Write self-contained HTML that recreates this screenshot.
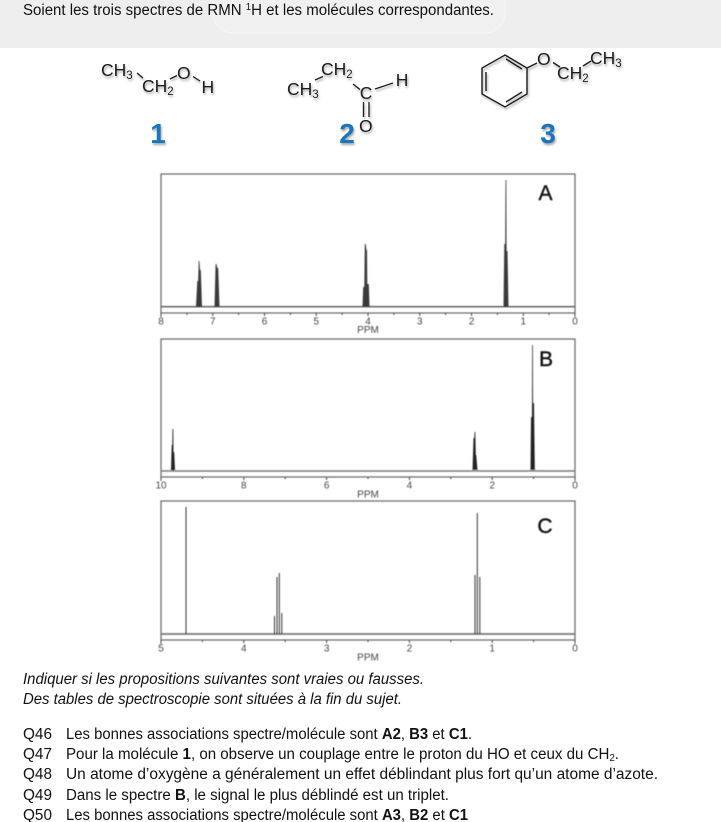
<!DOCTYPE html>
<html lang="fr">
<head>
<meta charset="utf-8">
<title>Spectres RMN</title>
<style>
html,body{margin:0;padding:0;background:#fff;width:721px;height:822px;overflow:hidden}
svg{display:block}
.t{font-family:"Liberation Sans",sans-serif;font-size:15.5px;fill:#111}
.i{font-style:italic}
.m{font-family:"Liberation Sans",sans-serif;font-size:17.5px;fill:#1c1c1c}
.s{font-size:11.5px}
.n{font-family:"Liberation Sans",sans-serif;font-size:28px;font-weight:bold;fill:#1a75bc;text-anchor:middle}
.l{font-family:"Liberation Sans",sans-serif;font-size:10px;fill:#444;text-anchor:middle}
.c{font-family:"Liberation Sans",sans-serif;font-size:21px;fill:#111;stroke:#111;stroke-width:.4;text-anchor:middle}
.mol{filter:drop-shadow(1px 2px 1px rgba(0,0,0,.35))}
.sp{filter:blur(.4px)}
</style>
</head>
<body>
<svg width="721" height="822" viewBox="0 0 721 822" xmlns="http://www.w3.org/2000/svg">
<rect x="0" y="0" width="721" height="48" fill="#eeeeee"/>
<rect x="213" y="-20" width="292" height="53" rx="20" fill="#f0f0f0" stroke="#f6f6f6"/>
<text class="t" x="23" y="15" textLength="471" lengthAdjust="spacingAndGlyphs">Soient les trois spectres de RMN <tspan font-size="10" dy="-5">1</tspan><tspan dy="5">H et les molécules correspondantes.</tspan></text>

<g class="mol">
<text class="m" x="101" y="76">CH<tspan class="s" dy="3">3</tspan></text>
<text class="m" x="142" y="92">CH<tspan class="s" dy="3">2</tspan></text>
<text class="m" x="177" y="79">O</text>
<text class="m" x="201.500" y="93">H</text>
<path d="M137 73L143 78M170 79L177 75.500M193 76.500L200 81" stroke="#1c1c1c" stroke-width="1.300" fill="none"/>

<text class="m" x="287" y="95">CH<tspan class="s" dy="3">3</tspan></text>
<text class="m" x="321" y="75">CH<tspan class="s" dy="3">2</tspan></text>
<text class="m" x="359.700" y="99">C</text>
<text class="m" x="395.700" y="86">H</text>
<text class="m" x="359" y="132">O</text>
<path d="M315 80L323 76.500M353 84L360 89.500M375 89L393 83M363.500 102V117M369 102V117" stroke="#1c1c1c" stroke-width="1.300" fill="none"/>

<path d="M505 55L527 68V94L505 107L482 94V68ZM486 72V91M506 59L522 69M506 102L522 92M527 68L537 63M553 62.500L560 67M583 66L591 61" stroke="#1c1c1c" stroke-width="1.400" fill="none"/>
<text class="m" x="537" y="65">O</text>
<text class="m" x="557" y="79">CH<tspan class="s" dy="3">2</tspan></text>
<text class="m" x="590" y="64">CH<tspan class="s" dy="3">3</tspan></text>
<text class="n" x="158" y="143">1</text>
<text class="n" x="347" y="143">2</text>
<text class="n" x="548" y="143">3</text>
</g>

<g class="sp">
<!-- Spectrum A -->
<rect x="161" y="174" width="414" height="139" fill="#fff" stroke="#666" stroke-width="1.200"/>
<path d="M161 306.700H575" stroke="#555" stroke-width="1.300"/>
<path d="M161 313v4M186.900 313v2M212.750 313v3M238.600 313v2M264.500 313v3M290.400 313v2M316.250 313v3M342.100 313v2M368 313v3M393.900 313v2M419.750 313v3M445.600 313v2M471.500 313v3M497.400 313v2M523.250 313v3M549.100 313v2M575 313v4" stroke="#444" stroke-width="1"/>
<path d="M196 306.500L197.300 281H198.200L198.700 261H199.500L200 270H200.800L202 306.500ZM214.500 306.500L215.600 264H216.500L217.300 268H218.200L219.500 306.500ZM362.500 306.500L363.200 287H364.300L364.800 244H365.800L366.500 250H367L367.300 284H368.800L369.500 306.500ZM503.500 306.500L504.300 244H505.200L505.500 180H506.300L506.600 251H507.500L508.500 306.500Z" fill="#3a3a3a"/>
<text class="l" x="161" y="324.500">8</text><text class="l" x="212.750" y="324.500">7</text><text class="l" x="264.500" y="324.500">6</text><text class="l" x="316.250" y="324.500">5</text><text class="l" x="368" y="324.500">4</text><text class="l" x="419.750" y="324.500">3</text><text class="l" x="471.500" y="324.500">2</text><text class="l" x="523.250" y="324.500">1</text><text class="l" x="575" y="324.500">0</text>
<text class="l" x="368" y="333">PPM</text>

<!-- Spectrum B -->
<rect x="161" y="339" width="414" height="138" fill="#fff" stroke="#666" stroke-width="1.200"/>
<path d="M161 471H575" stroke="#777" stroke-width="1.500"/>
<path d="M161 477v4M202.400 477v2M243.800 477v3M285.200 477v2M326.600 477v3M368 477v2M409.400 477v3M450.800 477v2M492.200 477v3M533.600 477v2M575 477v4" stroke="#444" stroke-width="1"/>
<path d="M171 470.500L171.700 445H172.300L172.500 429H173.300L173.500 452H174.200L175 470.500ZM472.500 470.500L473.500 438H474.300L474.500 432H475.300L475.800 455H476.200L477.500 470.500ZM530.500 470.500L531 417H532L532.200 345H532.900L533 403H534L534.800 470.500Z" fill="#222"/>
<path d="M169 471L171 470H175L177 471ZM470 471L473 469.500H477L480 471ZM527 471L531 469.500H535L539 471Z" fill="#999"/>
<text class="l" x="161" y="488.500">10</text><text class="l" x="243.800" y="488.500">8</text><text class="l" x="326.600" y="488.500">6</text><text class="l" x="409.400" y="488.500">4</text><text class="l" x="492.200" y="488.500">2</text><text class="l" x="575" y="488.500">0</text>
<text class="l" x="368" y="497.500">PPM</text>

<!-- Spectrum C -->
<rect x="161" y="501" width="414" height="139" fill="#fff" stroke="#666" stroke-width="1.200"/>
<path d="M161 634H575" stroke="#777" stroke-width="1.700"/>
<path d="M161 640v4M202.400 640v2M243.800 640v3M285.200 640v2M326.600 640v3M368 640v2M409.400 640v3M450.800 640v2M492.200 640v3M533.600 640v2M575 640v4" stroke="#444" stroke-width="1"/>
<path d="M186 634V507M274.500 634V616M277 634V577M279.300 634V573M281.800 634V613M475 634V575M477.300 634V513M479.800 634V577" stroke="#333" stroke-width="1"/>
<text class="l" x="161" y="651.500">5</text><text class="l" x="243.800" y="651.500">4</text><text class="l" x="326.600" y="651.500">3</text><text class="l" x="409.400" y="651.500">2</text><text class="l" x="492.200" y="651.500">1</text><text class="l" x="575" y="651.500">0</text>
<text class="l" x="368" y="660.500">PPM</text>

<text class="c" x="545.500" y="200">A</text>
<text class="c" x="546" y="366">B</text>
<text class="c" x="545" y="533">C</text>
</g>

<text class="t i" x="23" y="684" textLength="401" lengthAdjust="spacingAndGlyphs">Indiquer si les propositions suivantes sont vraies ou fausses.</text>
<text class="t i" x="23" y="704" textLength="379" lengthAdjust="spacingAndGlyphs">Des tables de spectroscopie sont situées à la fin du sujet.</text>

<text class="t" x="23" y="739" textLength="29" lengthAdjust="spacingAndGlyphs">Q46</text>
<text class="t" x="66" y="739" textLength="406" lengthAdjust="spacingAndGlyphs">Les bonnes associations spectre/molécule sont <tspan font-weight="bold">A2</tspan>, <tspan font-weight="bold">B3</tspan> et <tspan font-weight="bold">C1</tspan>.</text>
<text class="t" x="23" y="759" textLength="29" lengthAdjust="spacingAndGlyphs">Q47</text>
<text class="t" x="66" y="759" textLength="553" lengthAdjust="spacingAndGlyphs">Pour la molécule <tspan font-weight="bold">1</tspan>, on observe un couplage entre le proton du HO et ceux du CH<tspan font-size="10" dy="2">2</tspan><tspan dy="-2">.</tspan></text>
<text class="t" x="23" y="779" textLength="29" lengthAdjust="spacingAndGlyphs">Q48</text>
<text class="t" x="66" y="779" textLength="592" lengthAdjust="spacingAndGlyphs">Un atome d’oxygène a généralement un effet déblindant plus fort qu’un atome d’azote.</text>
<text class="t" x="23" y="800" textLength="29" lengthAdjust="spacingAndGlyphs">Q49</text>
<text class="t" x="66" y="800" textLength="383" lengthAdjust="spacingAndGlyphs">Dans le spectre <tspan font-weight="bold">B</tspan>, le signal le plus déblindé est un triplet.</text>
<text class="t" x="23" y="820" textLength="29" lengthAdjust="spacingAndGlyphs">Q50</text>
<text class="t" x="66" y="820" textLength="402" lengthAdjust="spacingAndGlyphs">Les bonnes associations spectre/molécule sont <tspan font-weight="bold">A3</tspan>, <tspan font-weight="bold">B2</tspan> et <tspan font-weight="bold">C1</tspan></text>
</svg>
</body>
</html>
